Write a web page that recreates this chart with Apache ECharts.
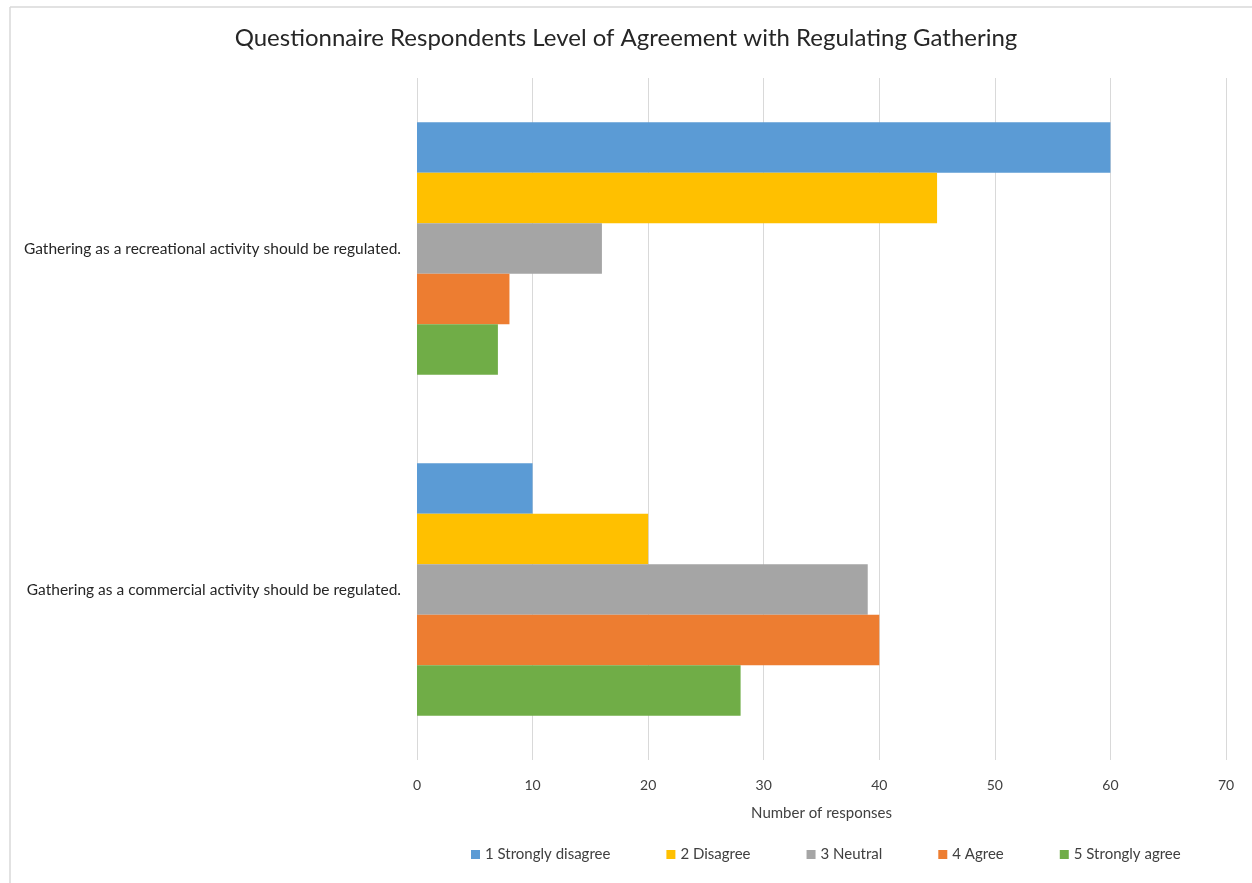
<!DOCTYPE html>
<html>
<head>
<meta charset="utf-8">
<script src="https://cdn.jsdelivr.net/npm/echarts@6/dist/echarts.min.js"></script>
<style>
html,body{margin:0;padding:0;background:#fff;}
#chart{width:1252px;height:883px;}
</style>
</head>
<body>
<div id="chart"></div>
<script>
const categories = [
  'Gathering as a recreational activity should be regulated.',
  'Gathering as a commercial activity should be regulated.'
];
const seriesNames = ['1 Strongly disagree', '2 Disagree', '3 Neutral', '4 Agree', '5 Strongly agree'];
const stronglyDisagree = [60, 10];
const disagree = [45, 20];
const neutral = [16, 39];
const agree = [8, 40];
const stronglyAgree = [7, 28];
const colors = ['#5B9BD5', '#FFC000', '#A5A5A5', '#ED7D31', '#70AD47'];
const xTicks = [0, 10, 20, 30, 40, 50, 60, 70];

const allData = [stronglyDisagree, disagree, neutral, agree, stronglyAgree];
const font = 'Lato, "Open Sans", sans-serif';

const chart = echarts.init(document.getElementById('chart'));
chart.setOption({
  animation: false,
  backgroundColor: '#fff',
  title: {
    text: 'Questionnaire Respondents Level of Agreement with Regulating Gathering',
    left: 'center',
    top: 21,
    textStyle: { fontFamily: font, fontSize: 24, fontWeight: 'normal', color: '#262626' }
  },
  legend: {
    bottom: 16,
    left: 466,
    itemWidth: 9,
    itemHeight: 9,
    itemGap: 56,
    icon: 'rect',
    textStyle: { fontFamily: font, fontSize: 15, color: '#404040' },
    data: seriesNames
  },
  grid: { left: 417, right: 26, top: 78, bottom: 123, containLabel: false },
  xAxis: {
    type: 'value',
    min: xTicks[0],
    max: xTicks[xTicks.length - 1],
    interval: 10,
    name: 'Number of responses',
    nameLocation: 'middle',
    nameGap: 46,
    nameTextStyle: { fontFamily: font, fontSize: 15, color: '#404040' },
    axisLine: { show: false },
    axisTick: { show: false },
    axisLabel: { fontFamily: font, fontSize: 14, color: '#404040', margin: 18 },
    splitLine: { show: true, lineStyle: { color: '#d9d9d9', width: 1 } }
  },
  yAxis: {
    type: 'category',
    inverse: true,
    data: categories,
    axisLine: { show: false },
    axisTick: { show: false },
    axisLabel: { fontFamily: font, fontSize: 15.5, color: '#262626', margin: 16 }
  },
  series: seriesNames.map((n, i) => ({
    name: n,
    type: 'bar',
    data: allData[i],
    itemStyle: { color: colors[i] },
    barGap: '0%',
    barCategoryGap: '26%'
  })),
  graphic: [
    { type: 'line', shape: { x1: 10, y1: 7, x2: 1252, y2: 7 }, style: { stroke: '#d9d9d9', lineWidth: 1.5 } },
    { type: 'line', shape: { x1: 10, y1: 7, x2: 10, y2: 883 }, style: { stroke: '#d9d9d9', lineWidth: 1.5 } }
  ]
});
</script>
</body>
</html>
